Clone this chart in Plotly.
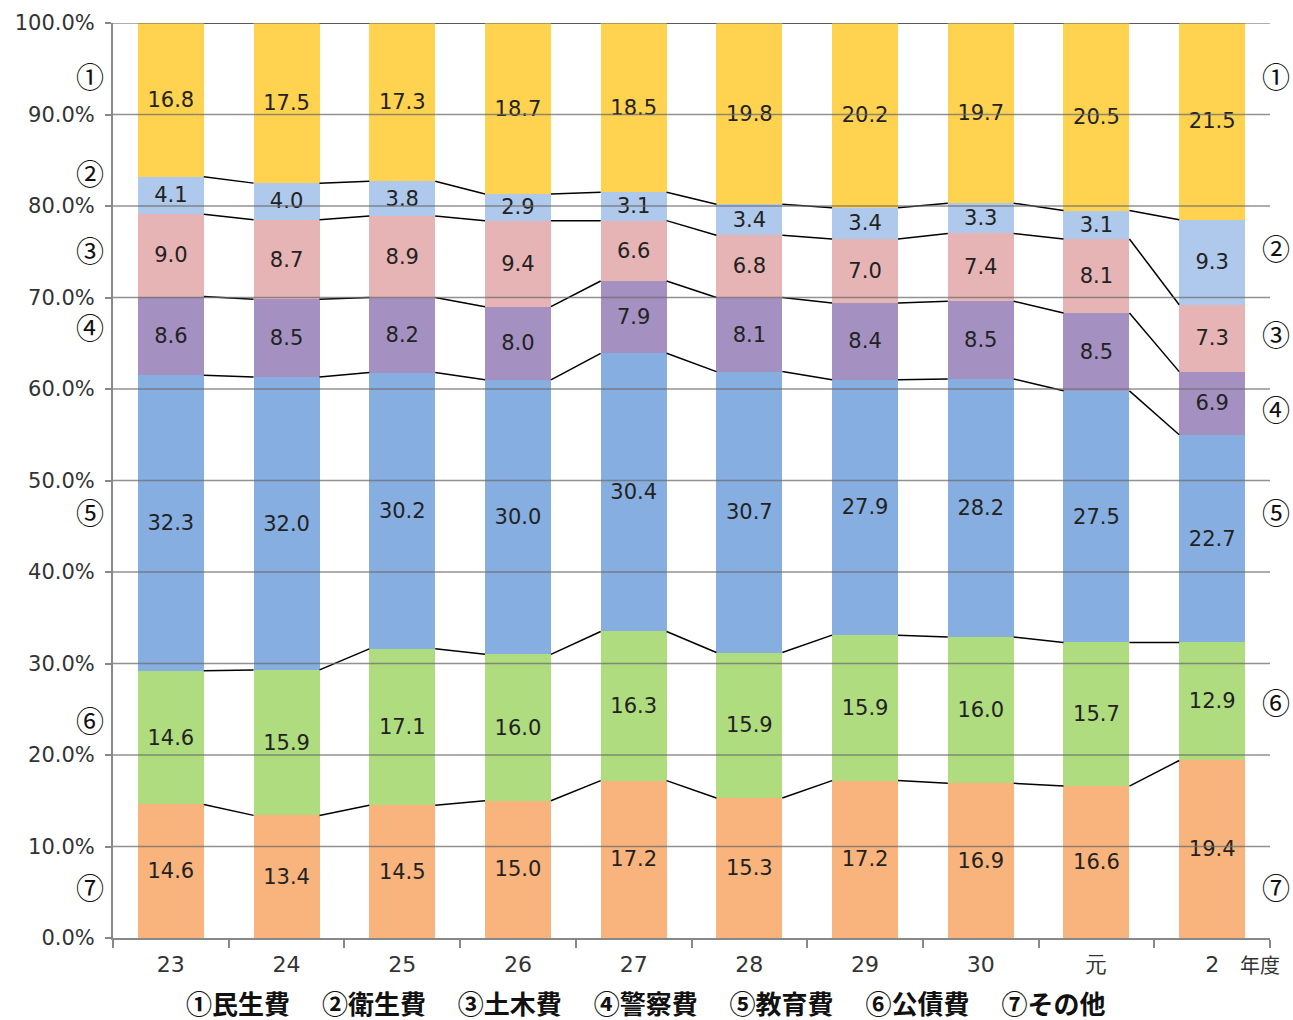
import plotly.graph_objects as go

categories = ["23", "24", "25", "26", "27", "28", "29", "30", "元", "2"]

# series from bottom to top
s7_other = [14.6, 13.4, 14.5, 15.0, 17.2, 15.3, 17.2, 16.9, 16.6, 19.4]
s6_debt = [14.6, 15.9, 17.1, 16.0, 16.3, 15.9, 15.9, 16.0, 15.7, 12.9]
s5_edu = [32.3, 32.0, 30.2, 30.0, 30.4, 30.7, 27.9, 28.2, 27.5, 22.7]
s4_police = [8.6, 8.5, 8.2, 8.0, 7.9, 8.1, 8.4, 8.5, 8.5, 6.9]
s3_civil = [9.0, 8.7, 8.9, 9.4, 6.6, 6.8, 7.0, 7.4, 8.1, 7.3]
s2_health = [4.1, 4.0, 3.8, 2.9, 3.1, 3.4, 3.4, 3.3, 3.1, 9.3]
s1_welfare = [16.8, 17.5, 17.3, 18.7, 18.5, 19.8, 20.2, 19.7, 20.5, 21.5]

series_names = ["⑦その他", "⑥公債費", "⑤教育費", "④警察費", "③土木費", "②衛生費", "①民生費"]
y_ticks = [0, 10, 20, 30, 40, 50, 60, 70, 80, 90, 100]
legend_items = ["①民生費", "②衛生費", "③土木費", "④警察費", "⑤教育費", "⑥公債費", "⑦その他"]
unit_label = "年度"

# styles / layout constants
colors = ["#F8B47C", "#B0DC80", "#86AEE0", "#A491C1", "#E6B4B4", "#AEC9EB", "#FFD24F"]
CJK = "Noto Sans CJK JP"
NUM = "DejaVu Sans"
BAR_W = 0.57
left_marks = [("①", 94.2), ("②", 83.6), ("③", 75.2), ("④", 66.8), ("⑤", 46.6), ("⑥", 23.8), ("⑦", 5.6)]
right_marks = [("①", 94.2), ("②", 75.4), ("③", 66.0), ("④", 57.8), ("⑤", 46.6), ("⑥", 25.8), ("⑦", 5.6)]

series = [s7_other, s6_debt, s5_edu, s4_police, s3_civil, s2_health, s1_welfare]
xs = list(range(len(categories)))

fig = go.Figure()
for name, vals, col in zip(series_names, series, colors):
    fig.add_trace(go.Bar(
        x=xs, y=vals, name=name, width=BAR_W,
        marker=dict(color=col, line=dict(width=0)),
        text=[f"{v:.1f}" for v in vals],
        textposition="inside", insidetextanchor="middle", textangle=0,
        textfont=dict(family=NUM, size=21, color="#222222"),
        hoverinfo="skip",
    ))

# connector lines at each cumulative boundary
cum = [0.0] * len(categories)
lx, ly = [], []
for vals in series:
    cum = [c + v for c, v in zip(cum, vals)]
    for i in range(len(categories) - 1):
        lx += [xs[i] + BAR_W / 2, xs[i + 1] - BAR_W / 2, None]
        ly += [cum[i], cum[i + 1], None]
fig.add_trace(go.Scatter(x=lx, y=ly, mode="lines", line=dict(color="black", width=1.5),
                         hoverinfo="skip", showlegend=False))

# gridlines above bars
shapes = []
for t in y_ticks[1:]:
    shapes.append(dict(type="line", xref="paper", x0=0, x1=1, yref="y", y0=t, y1=t,
                       line=dict(color="rgba(110,110,110,0.75)", width=1.5), layer="above"))

annotations = []
for txt, yv in left_marks:
    annotations.append(dict(text=txt, x=-0.0199, y=yv, xref="paper", yref="y", showarrow=False,
                            font=dict(family=CJK, size=28, color="#111"), xanchor="center", yanchor="middle"))
for txt, yv in right_marks:
    annotations.append(dict(text=txt, x=1.0052, y=yv, xref="paper", yref="y", showarrow=False,
                            font=dict(family=CJK, size=28, color="#111"), xanchor="center", yanchor="middle"))
annotations.append(dict(text="<b>" + "　 ".join(legend_items) + "</b>", x=0.46, y=-0.071,
                        xref="paper", yref="paper", showarrow=False,
                        font=dict(family=CJK, size=26, color="#111"), xanchor="center", yanchor="middle"))
annotations.append(dict(text=unit_label, x=0.991, y=-0.0295, xref="paper", yref="paper", showarrow=False,
                        font=dict(family=CJK, size=20, color="#333"), xanchor="center", yanchor="middle"))

fig.update_layout(
    barmode="stack",
    width=1293, height=1020,
    margin=dict(l=113, r=23, t=23, b=82, autoexpand=False),
    paper_bgcolor="white", plot_bgcolor="white",
    showlegend=False,
    shapes=shapes, annotations=annotations,
    uniformtext=dict(minsize=21, mode="show"),
    xaxis=dict(range=[-0.5, len(categories) - 0.5], tickvals=xs, ticktext=categories,
               ticks="", showgrid=False, zeroline=False, automargin=False,
               showline=True, linecolor="#888888", linewidth=2, ticklabelstandoff=6,
               tickfont=dict(family=NUM, size=22, color="#333"),
               minor=dict(tickvals=[i - 0.5 for i in range(len(categories) + 1)], ticks="outside",
                          ticklen=8, tickcolor="#888888", tickwidth=2, showgrid=False)),
    yaxis=dict(range=[0, 100], tickvals=y_ticks, ticktext=[f"{t:.1f}%" for t in y_ticks],
               showgrid=False, zeroline=False, showline=True, linecolor="#888888", linewidth=2,
               ticks="outside", ticklen=6, tickcolor="#888888", tickwidth=2, automargin=False,
               ticklabelstandoff=6,
               tickfont=dict(family=NUM, size=21, color="#333")),
)

fig.write_html("out.html", config={"displayModeBar": False},
               post_script="document.body.style.margin='0';")
